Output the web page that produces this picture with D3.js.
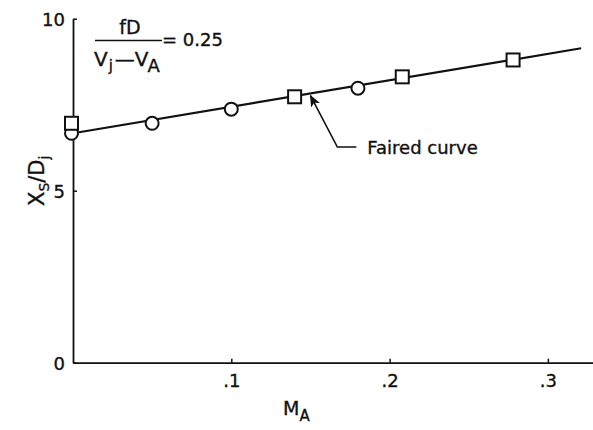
<!DOCTYPE html>
<html>
<head>
<meta charset="utf-8">
<script src="https://cdn.jsdelivr.net/npm/d3@7"></script>
<style>
  html, body { margin: 0; padding: 0; background: #fff; }
  svg { display: block; }
  text { font-family: "DejaVu Sans", "Liberation Sans", sans-serif; fill: #111; stroke: #111; stroke-width: 0.35px; }
</style>
</head>
<body>
<svg id="chart" width="593" height="430"></svg>
<script>
// ---- data ----
const circleX = [0, 0.05, 0.10, 0.18];
const circleY = [6.67, 6.96, 7.37, 7.98];
const squareX = [0, 0.14, 0.208, 0.278];
const squareY = [6.96, 7.73, 8.31, 8.80];
const fairedX = [0, 0.321];
const fairedY = [6.67, 9.14];
const xTickValues = [0.1, 0.2, 0.3];
const xTickLabels = [".1", ".2", ".3"];
const yTickValues = [0, 5, 10];
const yTickLabels = ["0", "5", "10"];

// ---- layout ----
const svg = d3.select("#chart");
const x = d3.scaleLinear().domain([0, 0.33]).range([73, 73 + 0.33 * 1583]);
const y = d3.scaleLinear().domain([0, 10]).range([362.7, 18.7]);
const ink = "#111";

// axes
const xAxis = d3.axisBottom(x)
  .tickValues(xTickValues)
  .tickFormat((d, i) => xTickLabels[i])
  .tickSizeInner(-4).tickSizeOuter(0).tickPadding(9);
const gx = svg.append("g").attr("transform", `translate(0,${y(0)})`).call(xAxis);

const yAxis = d3.axisLeft(y)
  .tickValues(yTickValues)
  .tickFormat((d, i) => yTickLabels[i])
  .tickSizeInner(-4).tickSizeOuter(0).tickPadding(8);
const gy = svg.append("g").attr("transform", `translate(${x(0)},0)`).call(yAxis);

[gx, gy].forEach(g => {
  g.selectAll("path.domain").attr("stroke", ink).attr("stroke-width", 1.8);
  g.selectAll(".tick line").attr("stroke", ink).attr("stroke-width", 1.5);
  g.selectAll(".tick text").attr("font-size", 18).attr("fill", ink)
    .attr("font-family", "DejaVu Sans, sans-serif");
});
gx.selectAll(".tick text").attr("dy", "0.85em");
gy.selectAll(".tick text").attr("dy", "0.36em");

// axis titles
const xt = svg.append("text").attr("x", 283).attr("y", 415).attr("font-size", 19);
xt.append("tspan").text("M");
xt.append("tspan").attr("font-size", 15).attr("dy", 6).text("A");

const yt = svg.append("text")
  .attr("transform", "translate(44,206) rotate(-90)")
  .attr("font-size", 21);
yt.append("tspan").text("X");
yt.append("tspan").attr("font-size", 14).attr("dy", 5).text("S");
yt.append("tspan").attr("dy", -5).text("/D");
yt.append("tspan").attr("font-size", 14).attr("dy", 5).text("j");

// faired curve
const line = d3.line().x(d => x(d[0])).y(d => y(d[1]));
svg.append("path")
  .datum(d3.zip(fairedX, fairedY))
  .attr("d", line)
  .attr("fill", "none").attr("stroke", ink).attr("stroke-width", 2.2);

// markers
svg.append("g").selectAll("circle")
  .data(d3.zip(circleX, circleY)).join("circle")
  .attr("cx", d => x(d[0]) - (d[0] === 0 ? 1.5 : 0))
  .attr("cy", d => y(d[1]))
  .attr("r", 6.5)
  .attr("fill", "#fff").attr("stroke", ink).attr("stroke-width", 2);

const sq = 13;
svg.append("g").selectAll("rect")
  .data(d3.zip(squareX, squareY)).join("rect")
  .attr("x", d => x(d[0]) - sq / 2 - (d[0] === 0 ? 1.5 : 0))
  .attr("y", d => y(d[1]) - sq / 2)
  .attr("width", sq).attr("height", sq)
  .attr("fill", "#fff").attr("stroke", ink).attr("stroke-width", 2);

// annotation: arrow to the faired curve
const tipX = 0.150;
const slope = (fairedY[1] - fairedY[0]) / (fairedX[1] - fairedX[0]);
const tipY = fairedY[0] + slope * tipX;
const elbow = [0.167, 6.27];
const endX = 0.179;
svg.append("defs").append("marker")
  .attr("id", "arrow").attr("viewBox", "0 0 12 10")
  .attr("refX", 11).attr("refY", 5)
  .attr("markerWidth", 12).attr("markerHeight", 10)
  .attr("markerUnits", "userSpaceOnUse")
  .attr("orient", "auto-start-reverse")
  .append("path").attr("d", "M0,0 L12,5 L0,10 L3,5 Z").attr("fill", ink);
svg.append("path")
  .attr("d", `M${x(endX)},${y(elbow[1])} L${x(elbow[0])},${y(elbow[1])} L${x(tipX)},${y(tipY) + 2}`)
  .attr("fill", "none").attr("stroke", ink).attr("stroke-width", 1.6)
  .attr("marker-end", "url(#arrow)");
svg.append("text")
  .attr("x", x(endX) + 11).attr("y", y(elbow[1]) + 7)
  .attr("font-size", 18).text("Faired curve");

// fraction annotation
svg.append("text").attr("x", 130).attr("y", 34).attr("text-anchor", "middle")
  .attr("font-size", 19).text("fD");
svg.append("line").attr("x1", 95).attr("x2", 162).attr("y1", 40.5).attr("y2", 40.5)
  .attr("stroke", ink).attr("stroke-width", 1.5);
svg.append("text").attr("x", 162).attr("y", 46).attr("font-size", 18).text("= 0.25");
const den = svg.append("text").attr("x", 94).attr("y", 66).attr("font-size", 20);
den.append("tspan").text("V");
den.append("tspan").attr("font-size", 15).attr("dy", 5).attr("dx", 1).text("j");
den.append("tspan").attr("dy", -5).attr("dx", 2).text("\u2014");
den.append("tspan").attr("dx", 0).text("V");
den.append("tspan").attr("font-size", 18).attr("dy", 6).attr("dx", -1).text("A");
</script>
</body>
</html>
